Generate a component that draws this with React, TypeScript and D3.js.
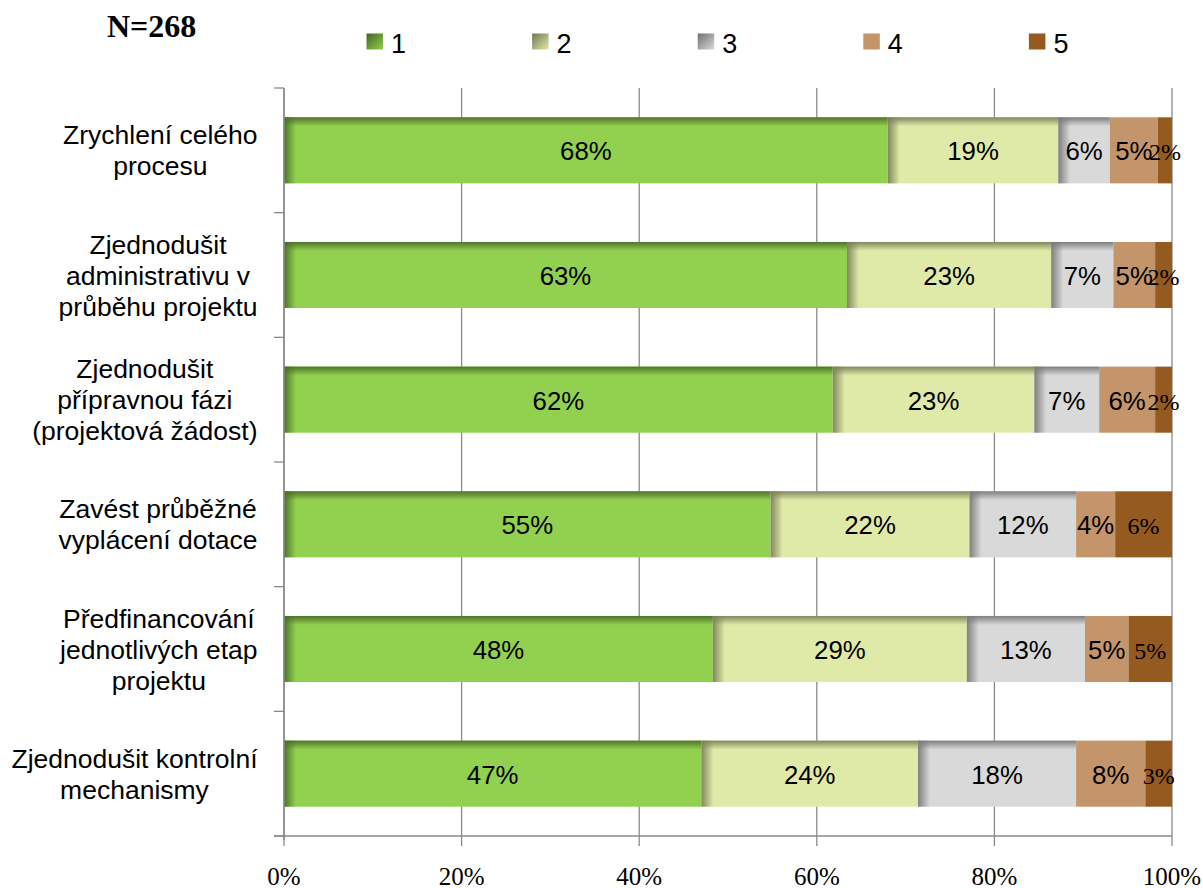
import React from "react";
import * as d3 from "d3";

const categoryLines: string[][] = [
  ["Zrychlení celého", "procesu"],
  ["Zjednodušit", "administrativu v", "průběhu projektu"],
  ["Zjednodušit", "přípravnou fázi", "(projektová žádost)"],
  ["Zavést průběžné", "vyplácení dotace"],
  ["Předfinancování", "jednotlivých etap", "projektu"],
  ["Zjednodušit kontrolní", "mechanismy"],
];
const seriesNames = ["1", "2", "3", "4", "5"];
const s1 = [68.0, 63.4, 61.8, 54.8, 48.3, 47.0];
const s2 = [19.2, 23.0, 22.7, 22.4, 28.6, 24.4];
const s3 = [5.8, 7.0, 7.3, 12.0, 13.3, 17.8];
const s4 = [5.4, 4.7, 6.3, 4.4, 4.9, 7.8];
const s5 = [1.6, 1.9, 1.9, 6.4, 4.9, 3.0];
const xTicks = [0, 20, 40, 60, 80, 100];
const sampleLabel = "N=268";

const baseColors = ["#92D050", "#E0EAA8", "#D9D9D9", "#C4956A", "#945A20"];
const shadeColors = ["#4C6E27", "#7D8159", "#7A7A7A", null, null];

const W = 1203;
const H = 888;
const left = 284;
const right = 1172;
const top = 88;
const bottom = 836;

const sans = "'Liberation Sans', Arial, sans-serif";
const serif = "'Liberation Serif', 'Times New Roman', serif";

function measure(text: string, font: string): number {
  if (typeof document === "undefined") return text.length * 12;
  const c = document.createElement("canvas");
  const ctx = c.getContext("2d");
  if (!ctx) return text.length * 12;
  ctx.font = font;
  return ctx.measureText(text).width;
}

export default function App() {
  const keys = categoryLines.map((_, i) => i);
  const rows = keys.map((i) => ({
    idx: i,
    "1": s1[i],
    "2": s2[i],
    "3": s3[i],
    "4": s4[i],
    "5": s5[i],
  }));
  const stacked = d3.stack<any>().keys(seriesNames)(rows);

  const x = d3.scaleLinear().domain([0, 100]).range([left, right]);
  const y = d3
    .scaleBand<number>()
    .domain(keys)
    .range([top, bottom])
    .paddingInner(0.47)
    .paddingOuter(0.235);
  const bandStep = (bottom - top) / keys.length;
  const gridColor = "#8A8A8A";

  const catFontSize = 26.5;
  const catFont = `${catFontSize}px 'Liberation Sans'`;
  const lineH = 31;

  return (
    <svg
      width={W}
      height={H}
      style={{ position: "absolute", left: 0, top: 0, display: "block", background: "#fff" }}
    >
      <defs>
        {shadeColors.map((c, i) =>
          c ? (
            <React.Fragment key={i}>
              <linearGradient id={`top${i}`} x1="0" y1="0" x2="0" y2="1">
                <stop offset="0" stopColor={c} stopOpacity={0.95} />
                <stop offset="1" stopColor={c} stopOpacity={0} />
              </linearGradient>
              <linearGradient id={`left${i}`} x1="0" y1="0" x2="1" y2="0">
                <stop offset="0" stopColor={c} stopOpacity={0.95} />
                <stop offset="1" stopColor={c} stopOpacity={0} />
              </linearGradient>
              <linearGradient id={`leg${i}`} x1="0" y1="0" x2="1" y2="1">
                <stop offset="0.1" stopColor={c} />
                <stop offset="1" stopColor={baseColors[i]} />
              </linearGradient>
            </React.Fragment>
          ) : null
        )}
      </defs>

      {/* gridlines */}
      {xTicks.map((t) => (
        <line
          key={`g${t}`}
          x1={x(t)}
          x2={x(t)}
          y1={top}
          y2={bottom + 10}
          stroke={gridColor}
          strokeWidth={1.3}
        />
      ))}
      {/* left axis ticks */}
      {d3.range(keys.length + 1).map((i) => (
        <line
          key={`lt${i}`}
          x1={left - 10}
          x2={left}
          y1={top + i * bandStep}
          y2={top + i * bandStep}
          stroke={gridColor}
          strokeWidth={1.3}
        />
      ))}
      <line x1={left - 10} x2={right} y1={bottom} y2={bottom} stroke={gridColor} strokeWidth={1.5} />

      {/* bars */}
      {stacked.map((layer, si) => (
        <g key={`s${si}`}>
          {layer.map((d, ri) => {
            const x0 = x(d[0]);
            const x1 = x(d[1]);
            const yy = y(ri) as number;
            const bh = y.bandwidth();
            const w = x1 - x0;
            const shade = shadeColors[si];
            return (
              <g key={`b${si}-${ri}`}>
                <rect x={x0} y={yy} width={w} height={bh} fill={baseColors[si]} />
                {shade && (
                  <>
                    <rect x={x0} y={yy} width={w} height={9} fill={`url(#top${si})`} />
                    <rect x={x0} y={yy} width={Math.min(12, w)} height={bh} fill={`url(#left${si})`} />
                  </>
                )}
              </g>
            );
          })}
        </g>
      ))}

      {/* bar labels */}
      {stacked.map((layer, si) =>
        layer.map((d, ri) => {
          const cx = (x(d[0]) + x(d[1])) / 2;
          const cy = (y(ri) as number) + y.bandwidth() / 2;
          const v = d[1] - d[0];
          const isSerif = si === 4;
          return (
            <text
              key={`l${si}-${ri}`}
              x={cx}
              y={cy + 10}
              textAnchor="middle"
              fontFamily={isSerif ? serif : sans}
              fontSize={isSerif ? 24 : 25.8}
              fill="#000"
            >
              {`${Math.round(v)}%`}
            </text>
          );
        })
      )}

      {/* left axis line on top */}
      <line x1={left} x2={left} y1={top} y2={bottom + 4} stroke={gridColor} strokeWidth={1.5} />

      {/* category labels */}
      {categoryLines.map((lines, i) => {
        const maxW = Math.max(...lines.map((l) => measure(l, catFont)));
        const cx = 257.5 - maxW / 2;
        const cy = (y(i) as number) + y.bandwidth() / 2;
        const firstBase = cy - ((lines.length - 1) * lineH) / 2 + 9.5;
        return (
          <text
            key={`c${i}`}
            textAnchor="middle"
            fontFamily={sans}
            fontSize={catFontSize}
            fill="#000"
          >
            {lines.map((l, j) => (
              <tspan key={j} x={cx} y={firstBase + j * lineH}>
                {l}
              </tspan>
            ))}
          </text>
        );
      })}

      {/* x tick labels */}
      {xTicks.map((t) => (
        <text
          key={`xt${t}`}
          x={x(t)}
          y={885}
          textAnchor="middle"
          fontFamily={serif}
          fontSize={25}
          fill="#000"
        >
          {`${t}%`}
        </text>
      ))}

      {/* N label */}
      <text x={107} y={36.5} fontFamily={serif} fontWeight="bold" fontSize={32} fill="#000">
        {sampleLabel}
      </text>

      {/* legend */}
      {seriesNames.map((name, i) => {
        const lx = 366.5 + i * 165.6;
        return (
          <g key={`leg${i}`}>
            <rect
              x={lx}
              y={33.5}
              width={16.5}
              height={16}
              fill={shadeColors[i] ? `url(#leg${i})` : baseColors[i]}
            />
            <text x={lx + 24.5} y={52.5} fontFamily={sans} fontSize={27} fill="#000">
              {name}
            </text>
          </g>
        );
      })}
    </svg>
  );
}
